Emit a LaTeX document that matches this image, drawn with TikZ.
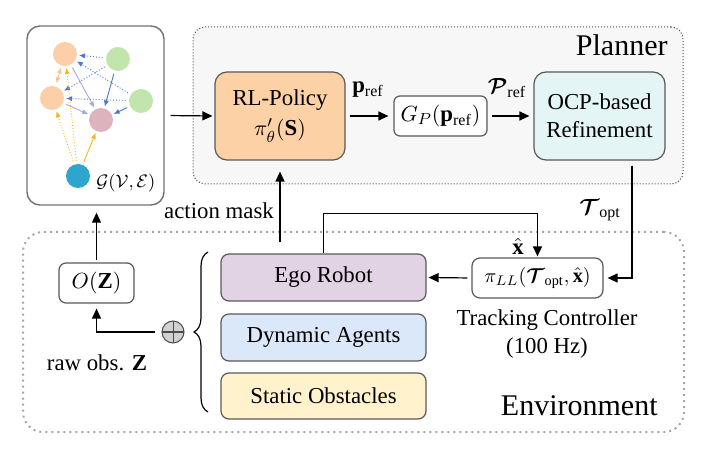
\documentclass[tikz,border=0pt]{standalone}
\usepackage{fontspec}
\setmainfont{Liberation Serif}
\usepackage{amsmath,bm}
\usetikzlibrary{arrows.meta,calc,decorations.pathreplacing}
\definecolor{rlfill}{HTML}{FDD1A6}
\definecolor{ocpfill}{HTML}{E3F5F5}
\definecolor{egofill}{HTML}{E1D2E4}
\definecolor{dynfill}{HTML}{DAE8FA}
\definecolor{statfill}{HTML}{FFF2CC}
\definecolor{planfill}{HTML}{F7F7F7}
\definecolor{nodeor}{HTML}{FDCFA8}
\definecolor{nodegr}{HTML}{C2E5AD}
\definecolor{nodepk}{HTML}{DDB3BD}
\definecolor{nodebl}{HTML}{2EA5CD}
\definecolor{edor}{HTML}{F6C49A}
\definecolor{edbl}{HTML}{4B79D2}
\definecolor{edlv}{HTML}{A8A5E6}
\definecolor{edye}{HTML}{F5B61E}
\begin{document}
\begin{tikzpicture}[x=0.5pt,y=-0.5pt,
  txt/.style={font=\fontsize{11.4}{14}\selectfont, inner sep=0pt},
  box/.style={txt, draw=black!65, line width=0.6pt, rounded corners=5pt, align=center},
  arr/.style={-{Triangle[length=5pt,width=4.5pt]}, line width=0.6pt},
  gn/.style={circle, minimum size=12pt, inner sep=0pt},
  ge/.style={-{Latex[length=3pt,width=2.6pt]}, line width=0.45pt, densely dotted, shorten <=1.5pt, shorten >=0.8pt},
  big/.style={font=\fontsize{15}{18}\selectfont, inner sep=0pt}]
\useasboundingbox (0,0) rectangle (711,464);

% containers
\node[draw=black!70, densely dotted, fill=planfill, line width=0.5pt, rounded corners=6pt,
      minimum width=245pt, minimum height=78.5pt, inner sep=0pt] (planner) at (438,105.5) {};
\node[draw=black!35, dotted, line width=1pt, rounded corners=10pt,
      minimum width=330.5pt, minimum height=100pt, inner sep=0pt] (env) at (353.5,332) {};
\node[big, anchor=east] (plannerlbl) at (668,45) {Planner};
\node[big, anchor=east] (envlbl) at (658,406) {Environment};

% graph box
\node[draw=black!55, fill=white, line width=0.7pt, rounded corners=6.5pt,
      minimum width=68.5pt, minimum height=89.5pt, inner sep=0pt] (graph) at (95.5,115.5) {};
\node[gn, fill=nodeor] (o1) at (65,54) {};
\node[gn, fill=nodegr] (g1) at (118,59) {};
\node[gn, fill=nodeor] (o2) at (52,98) {};
\node[gn, fill=nodegr] (g2) at (141,101) {};
\node[gn, fill=nodepk] (pk) at (101,120) {};
\node[gn, fill=nodebl] (bl) at (78,176) {};
\node[font=\fontsize{9.5}{11}\selectfont, inner sep=0pt, anchor=west] (glbl) at (96,183) {$\mathcal{G}(\mathcal{V},\mathcal{E})$};
\draw[ge, densely dashed, edor, {Latex[length=3pt,width=2.6pt]}-{Latex[length=3pt,width=2.6pt]}] (o2) -- (o1);
\draw[ge, edbl] (g1) -- (o1);
\draw[ge, edbl] (g2) -- (o1);
\draw[ge, edbl] (g1) -- (o2);
\draw[ge, edbl] (g2) -- (o2);
\draw[ge, edbl, solid] (g1) -- (pk);
\draw[ge, edbl, solid] (g2) -- (pk);
\draw[ge, edlv, solid] (o1) -- (pk);
\draw[ge, edlv, solid] (o2) -- (pk);
\draw[ge, edye] (bl) -- (o2);
\draw[ge, edye] (bl) -- (o1);
\draw[ge, edye, solid] (bl) -- (pk);

% planner blocks
\node[box, fill=rlfill, rounded corners=6pt, minimum width=65pt, minimum height=44pt] (rl) at (280,116)
  {RL-Policy\\[1pt] $\pi'_{\theta}(\mathbf{S})$};
\node[box, fill=white, rounded corners=3pt, minimum width=46.5pt, minimum height=20pt] (gp) at (440.5,116)
  {$G_P(\mathbf{p}_{\mathrm{ref}})$};
\node[box, fill=ocpfill, rounded corners=6pt, minimum width=65.5pt, minimum height=44pt] (ocp) at (599.5,116)
  {OCP-based\\ Refinement};

% environment blocks
\node[box, fill=egofill, rounded corners=4pt, minimum width=102.5pt, minimum height=23.5pt] (ego) at (323.5,277.5) {Ego Robot};
\node[box, fill=dynfill, rounded corners=4pt, minimum width=102.5pt, minimum height=23.5pt] (dyn) at (323.5,337.5) {Dynamic Agents};
\node[box, fill=statfill, rounded corners=4pt, minimum width=102.5pt, minimum height=23pt] (stat) at (323.5,396) {Static Obstacles};
\node[box, fill=white, rounded corners=3.5pt, minimum width=37.5pt, minimum height=20pt] (oz) at (96.5,283) {$O(\mathbf{Z})$};
\node[box, fill=white, rounded corners=4pt, minimum width=65.5pt, minimum height=20pt,
  font=\fontsize{10.2}{12}\selectfont] (track) at (537.5,278)
  {$\pi_{LL}(\bm{\mathcal{T}}_{\mathrm{opt}},\hat{\mathbf{x}})$};
\node[circle, draw=black!70, fill=black!18, minimum size=11pt, inner sep=0pt, line width=0.5pt,
  path picture={\draw[line width=0.5pt] (path picture bounding box.north) -- (path picture bounding box.south)
     (path picture bounding box.west) -- (path picture bounding box.east);}] (plus) at (173,332) {};
\coordinate (brtop) at (208,252);
\coordinate (brbot) at (208,412);
\draw[decorate, decoration={brace, amplitude=7pt}, line width=0.6pt] (brbot) -- (brtop);

% labels
\node[txt] (pref) at (368,90) {$\mathbf{p}_{\mathrm{ref}}$};
\node[txt] (Pref) at (507,88) {$\bm{\mathcal{P}}_{\mathrm{ref}}$};
\node[txt] (Topt) at (600,210) {$\bm{\mathcal{T}}_{\mathrm{opt}}$};
\node[txt] (xhat) at (518,246) {$\hat{\mathbf{x}}$};
\node[txt] (amask) at (219,211) {action mask};
\node[txt] (rawobs) at (97,363) {raw obs. $\mathbf{Z}$};
\node[txt, align=center] (tclbl) at (547,334) {Tracking Controller\\ (100 Hz)};

% connectors
\draw[arr, shorten <=3pt, shorten >=1pt] (graph.east) -- (rl.west);
\draw[arr, shorten <=2pt, shorten >=2.5pt] (rl.east) -- (gp.west);
\draw[arr, shorten <=2pt, shorten >=2pt] (gp.east) -- (ocp.west);
\coordinate (ocpout) at ($(ocp.south)+(32.5,0)$);
\draw[arr, shorten <=2.5pt, shorten >=2pt] (ocpout) |- (track.east);
\draw[arr, shorten <=2pt, shorten >=1pt] (track.west) -- (ego.east);
\draw[arr, shorten >=0.5pt] (ego.north) -- ++(0,-40) -| (track.north);
\draw[arr, shorten <=5.5pt, shorten >=5.5pt] (rl.south |- ego.north) -- (rl.south);
\draw[arr, shorten <=3.5pt, shorten >=2.5pt] (plus.west) -| (oz.south);
\draw[arr, shorten <=1pt, shorten >=3.5pt] (oz.north) -- (oz.north |- graph.south);
\end{tikzpicture}
\end{document}
